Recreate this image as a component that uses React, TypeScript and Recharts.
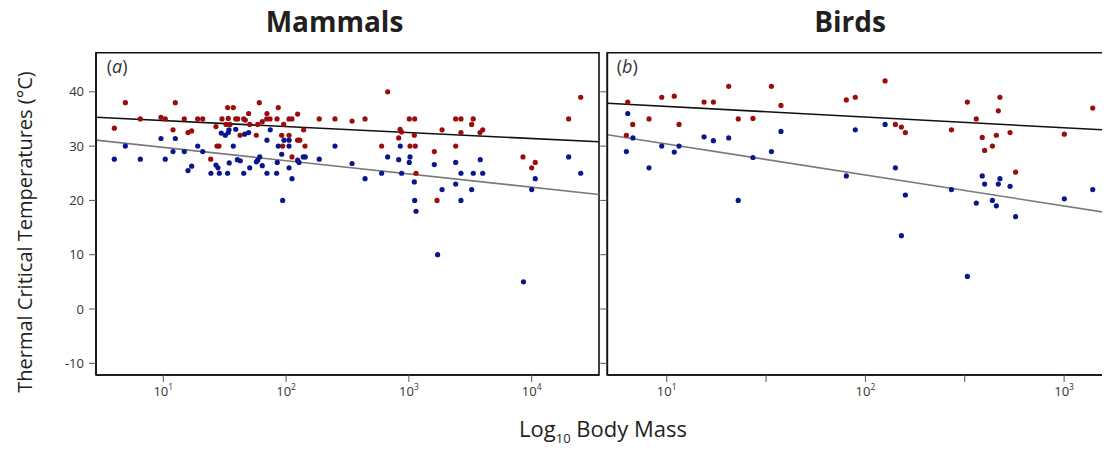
import React from 'react';
import {
  ScatterChart,
  Scatter,
  XAxis,
  YAxis,
  ReferenceLine,
  ReferenceArea,
} from 'recharts';

// log10 body mass and critical temperature
const mammalsUpperMass = [
  0.691, 1.098, 0.601, 0.813, 0.981, 1.016, 1.171, 1.28, 1.321, 1.478, 1.079, 1.201,
  1.231, 1.429, 1.437, 1.454, 1.386, 1.524, 1.57, 1.782, 1.936, 1.529, 1.59, 1.606,
  1.655, 1.668, 1.695, 1.844, 1.842, 1.869, 1.926, 2.024, 2.048, 2.094, 2.27, 2.398,
  1.511, 1.543, 1.704, 1.769, 1.806, 1.98, 2.143, 1.625, 1.757, 1.964, 2.024, 2.094,
  2.111, 1.972, 2.154, 2.048, 2.537, 2.643, 2.827, 3.003, 3.047, 3.381, 3.424, 3.524,
  2.928, 2.941, 2.917, 3.044, 3.27, 3.424, 3.511, 3.579, 3.601, 2.778, 3.009, 3.052,
  3.207, 3.381, 3.058, 3.229, 3.929, 4.0, 4.029, 4.301, 4.399,
];
const mammalsUpperTemp = [
  38, 38, 33.3, 35, 35.3, 35, 35, 35, 35, 35, 33, 32.5,
  32.8, 33.6, 30, 30, 27.6, 37.1, 37.1, 38, 37.1, 35.1, 35, 35,
  35, 34.8, 36, 36, 35, 35, 35, 35, 35, 35.9, 35, 35,
  34, 34, 34, 34, 34.5, 34, 33, 32, 32, 32, 32, 31.1,
  31.1, 30, 30, 28, 34.6, 35, 40, 35, 35, 35, 35, 35,
  33.1, 32.6, 31.5, 32, 33, 32.5, 34, 32.5, 33, 30, 30, 30,
  29, 30, 25, 20, 28, 26, 27, 35, 39,
];
const mammalsLowerMass = [
  0.691, 0.601, 0.813, 0.981, 1.098, 1.016, 1.079, 1.171, 1.28, 1.321, 1.201, 1.231,
  1.388, 1.429, 1.445, 1.456, 1.472, 1.505, 1.529, 1.535, 1.59, 1.663, 1.695, 1.871,
  1.844, 1.983, 2.024, 1.936, 2.024, 1.964, 1.57, 1.537, 1.603, 1.627, 1.524, 1.655,
  1.704, 1.757, 1.769, 1.785, 1.806, 1.844, 1.923, 1.928, 2.024, 2.048, 2.094, 2.105,
  2.14, 2.156, 2.27, 2.398, 1.972, 2.537, 2.643, 2.778, 2.827, 2.917, 2.93, 2.941,
  3.003, 3.009, 3.044, 3.047, 3.058, 3.207, 3.27, 3.381, 3.381, 3.424, 3.424, 3.511,
  3.524, 3.581, 3.601, 4.0, 4.029, 4.301, 4.399, 3.234, 3.933,
];
const mammalsLowerTemp = [
  30, 27.6, 27.6, 31.4, 31.4, 27.6, 29, 29, 30, 29, 25.5, 26.3,
  25, 26.5, 26, 25, 32.4, 32, 32.5, 33, 33.1, 32.2, 32.5, 33,
  31.1, 31.1, 31.1, 30, 30, 28.5, 30, 26.9, 27.5, 27.3, 25, 25,
  26, 27.1, 27.4, 28, 26.4, 25, 25, 27, 26, 24, 27.4, 27,
  28, 28, 27.6, 30, 20, 26.8, 24, 25, 28, 27.5, 30, 25,
  27, 28, 23.4, 20, 18, 26.6, 22, 27, 23, 25, 20, 22,
  25, 27.5, 25, 22, 24, 28, 25, 10, 5,
];

const birdsUpperMass = [
  0.804, 0.829, 0.797, 0.911, 0.975, 1.038, 1.062, 1.188, 1.235, 1.312, 1.36, 1.434,
  1.527, 1.575, 1.904, 1.949, 2.099, 2.151, 2.181, 2.201, 2.433, 2.513, 2.558, 2.588,
  2.6, 2.639, 2.659, 2.669, 2.677, 2.728, 2.756, 3.001, 3.144,
];
const birdsUpperTemp = [
  38.1, 34, 32, 35, 39, 39.2, 34, 38.1, 38.1, 41, 35, 35.1,
  41, 37.5, 38.5, 39, 42, 34, 33.5, 32.5, 33, 38.1, 35, 31.6,
  29.2, 30, 32, 36.5, 39, 32.5, 25.2, 32.2, 37,
];
const birdsLowerMass = [
  0.804, 0.797, 0.83, 0.911, 0.975, 1.038, 1.062, 1.188, 1.235, 1.312, 1.36, 1.434,
  1.527, 1.575, 1.904, 1.949, 2.099, 2.151, 2.201, 2.181, 2.433, 2.513, 2.558, 2.588,
  2.6, 2.639, 2.659, 2.669, 2.677, 2.728, 2.756, 3.001, 3.144,
];
const birdsLowerTemp = [
  36, 29, 31.5, 26, 30, 28.9, 30, 31.7, 31, 31.5, 20, 27.9,
  29, 32.7, 24.5, 33, 34, 26, 21, 13.5, 22, 6, 19.5, 24.5,
  23, 20, 19, 23, 24, 22.6, 17, 20.3, 22,
];

// fitted lines, value at each end of the panel
const mammalsFitMass = [0.452, 4.548];
const mammalsUpperFit = [35.3, 30.8];
const mammalsLowerFit = [31.1, 21.1];
const birdsFitMass = [0.701, 3.241];
const birdsUpperFit = [37.9, 32.9];
const birdsLowerFit = [32.1, 17.6];

const mammalsTicks = [1, 2, 3, 4];
const birdsTicks = [1, 1.5, 2, 2.5, 3];
const tempTicks = [-10, 0, 10, 20, 30, 40];
const tempDomain = [-12.15, 47.2];

const RED = '#9b0d0d';
const BLUE = '#0c168c';
const FONT = '"Open Sans", "Noto Sans", sans-serif';

const zip = (xs: number[], ys: number[]) => xs.map((x, i) => ({ x, y: ys[i] }));

const Dot = (props: any) => (
  <circle cx={props.cx} cy={props.cy} r={2.6} fill={props.fill} />
);

const PowerTick = ({ x, y, payload }: any) => {
  if (!Number.isInteger(payload.value)) return <g />;
  return (
    <text x={x} y={y} dy={11} textAnchor="middle" fontSize={13} fill="#333" fontFamily={FONT}>
      10
      <tspan fontSize={8.5} dy={-6}>
        {payload.value}
      </tspan>
    </text>
  );
};

interface PanelProps {
  width: number;
  margin: { top: number; right: number; bottom: number; left: number };
  yWidth: number;
  showYLabels: boolean;
  xDomain: number[];
  xTicks: number[];
  upper: { x: number; y: number }[];
  lower: { x: number; y: number }[];
  upperFit: number[];
  lowerFit: number[];
}

function Panel(p: PanelProps) {
  const [x0, x1] = p.xDomain;
  return (
    <ScatterChart width={p.width} height={446} margin={p.margin}>
      <XAxis
        type="number"
        dataKey="x"
        domain={p.xDomain}
        allowDataOverflow
        ticks={p.xTicks}
        interval={0}
        height={30}
        tickSize={7}
        tickMargin={3}
        stroke="#111"
        axisLine={{ stroke: '#111', strokeWidth: 1.6 }}
        tickLine={{ stroke: '#555' }}
        tick={PowerTick}
      />
      <YAxis
        type="number"
        dataKey="y"
        domain={tempDomain}
        allowDataOverflow
        ticks={tempTicks}
        interval={0}
        width={p.yWidth}
        tickSize={7}
        tickMargin={5}
        stroke="#111"
        axisLine={{ stroke: '#111', strokeWidth: 1.6 }}
        tickLine={{ stroke: '#555' }}
        tick={{ fontSize: 13, fill: '#333', fontFamily: FONT }}
        tickFormatter={(v) => (p.showYLabels ? String(v) : '')}
      />
      <ReferenceArea
        x1={x0}
        x2={x1}
        y1={tempDomain[0]}
        y2={tempDomain[1]}
        fill="none"
        stroke="#111"
        strokeWidth={1.6}
        ifOverflow="visible"
      />
      <ReferenceLine
        segment={[
          { x: x0, y: p.upperFit[0] },
          { x: x1, y: p.upperFit[1] },
        ]}
        stroke="#111"
        strokeWidth={1.6}
        ifOverflow="visible"
      />
      <ReferenceLine
        segment={[
          { x: x0, y: p.lowerFit[0] },
          { x: x1, y: p.lowerFit[1] },
        ]}
        stroke="#7a7a7a"
        strokeWidth={1.6}
        ifOverflow="visible"
      />
      <Scatter data={p.upper} fill={RED} shape={Dot} isAnimationActive={false} />
      <Scatter data={p.lower} fill={BLUE} shape={Dot} isAnimationActive={false} />
    </ScatterChart>
  );
}

export default function App() {
  return (
    <div style={{ position: 'relative', width: 1102, height: 446, fontFamily: FONT }}>
      <div style={{ position: 'absolute', left: 0, top: 0 }}>
        <Panel
          width={600}
          margin={{ top: 44.7, right: 9, bottom: 49, left: 28 }}
          yWidth={60}
          showYLabels
          xDomain={mammalsFitMass}
          xTicks={mammalsTicks}
          upper={zip(mammalsUpperMass, mammalsUpperTemp)}
          lower={zip(mammalsLowerMass, mammalsLowerTemp)}
          upperFit={mammalsUpperFit}
          lowerFit={mammalsLowerFit}
        />
      </div>
      {/* birds panel runs past the right edge, as in the original figure */}
      <div style={{ position: 'absolute', left: 560, top: 0, width: 542, height: 446, overflow: 'hidden' }}>
        <Panel
          width={560}
          margin={{ top: 44.7, right: 16, bottom: 49, left: 29.3 }}
          yWidth={10}
          showYLabels={false}
          xDomain={birdsFitMass}
          xTicks={birdsTicks}
          upper={zip(birdsUpperMass, birdsUpperTemp)}
          lower={zip(birdsLowerMass, birdsLowerTemp)}
          upperFit={birdsUpperFit}
          lowerFit={birdsLowerFit}
        />
      </div>
      <svg
        width={1110}
        height={454}
        style={{ position: 'absolute', left: -8, top: -8, pointerEvents: 'none' }}
        fontFamily={FONT}
      >
        <text x={334.5} y={31.7} textAnchor="middle" fontSize={28} fontWeight={700} fill="#231f20">
          Mammals
        </text>
        <text x={850} y={31.7} textAnchor="middle" fontSize={28} fontWeight={700} fill="#231f20">
          Birds
        </text>
        <text x={106.7} y={73} fontSize={18} fill="#333">
          (<tspan fontStyle="italic">a</tspan>)
        </text>
        <text x={616.7} y={73} fontSize={18} fill="#333">
          (<tspan fontStyle="italic">b</tspan>)
        </text>
        <text
          transform="translate(32, 232) rotate(-90)"
          textAnchor="middle"
          fontSize={20}
          fill="#231f20"
        >
          Thermal Critical Temperatures (°C)
        </text>
        <text x={603} y={437} textAnchor="middle" fontSize={22} fill="#231f20">
          Log
          <tspan fontSize={13} dy={6}>
            10
          </tspan>
          <tspan dy={-6}> Body Mass</tspan>
        </text>
      </svg>
    </div>
  );
}
